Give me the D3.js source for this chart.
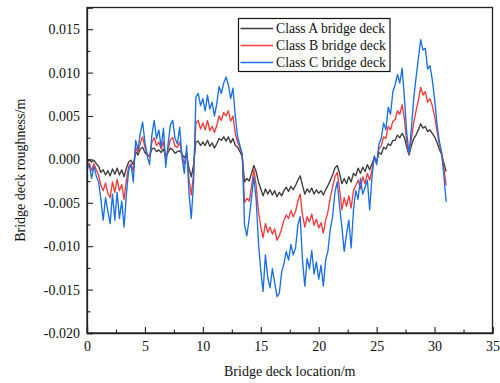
<!DOCTYPE html>
<html>
<head>
<meta charset="utf-8">
<script src="https://cdn.jsdelivr.net/npm/d3@7"></script>
<style>
  html, body { margin: 0; padding: 0; background: #fff; }
  svg { display: block; }
  svg text { font-family: "Liberation Serif", "Times New Roman", serif; }
</style>
</head>
<body>
<svg id="chart" width="500" height="383"></svg>
<script>
// Deck roughness profiles, in mm, sampled every 0.2 m from 0 to 31 m
const sampleStep = 0.2;

const classA = [
  -0.4, 0.0, -0.3, -0.1, -0.5, -0.8, -1.5, -1.2, -1.8, -1.3,
  -1.9, -1.1, -1.7, -1.0, -1.8, -1.2, -2.0, -1.0, -0.3, -0.1,
  -0.6, 0.9, 0.5, 1.2, 1.4, 0.8, 0.5, 0.4, 1.2, 1.3,
  0.9, 1.1, 0.8, 1.2, 0.3, 0.8, 1.3, 1.1, 0.7, 0.9,
  1.0, 0.6, 0.2, 0.6, -1.0, -2.0, -0.6, 2.0, 2.1, 1.6,
  2.0, 1.6, 2.2, 1.5, 1.9, 1.3, 1.8, 2.4, 2.2, 2.6,
  2.1, 2.6, 1.9, 2.4, 1.6, 1.4, 0.9, 0.3, -2.6, -2.2,
  -2.5, -1.6, -0.7, -1.4, -2.6, -3.4, -4.2, -3.4, -4.0, -3.5,
  -4.1, -3.6, -4.3, -3.8, -4.2, -3.6, -3.2, -3.7, -3.1, -3.5,
  -3.0, -2.4, -1.9, -3.0, -4.0, -3.4, -3.8, -3.3, -4.0, -3.5,
  -3.9, -3.6, -4.1, -3.5, -3.0, -2.4, -1.8, -1.0, -0.7, -1.6,
  -2.8, -2.2, -2.8, -2.0, -2.6, -1.6, -1.9, -1.0, -1.6, -0.9,
  -1.4, -0.6, -1.2, -0.5, 0.2, -0.3, 0.8, 0.6, 1.4, 1.2,
  1.8, 1.6, 2.2, 2.2, 2.8, 2.5, 3.0, 2.5, 1.4, 0.5,
  1.6, 2.4, 2.8, 3.4, 4.1, 3.6, 3.8, 3.2, 3.4, 3.0,
  2.6, 2.0, 1.2, 0.6, -0.4, -1.4
];

const classB = [
  -0.8, -0.4, -1.3, -0.5, -1.2, -1.8, -3.0, -3.6, -2.7, -3.9,
  -4.4, -2.6, -3.8, -2.3, -3.6, -2.9, -4.6, -2.4, -0.8, -0.5,
  -1.4, 1.4, 0.8, 1.9, 2.6, 1.4, 0.6, 0.3, 2.0, 2.5,
  1.6, 2.0, 1.2, 2.1, 0.0, 1.2, 2.3, 2.5, 1.5, 1.4,
  2.0, 0.6, -0.6, 0.8, -2.2, -4.1, -1.6, 4.2, 4.5, 3.5,
  4.2, 3.4, 4.5, 3.3, 3.8, 3.1, 3.9, 5.0, 4.5, 5.4,
  5.0, 5.6, 4.4, 5.0, 3.0, 2.0, 1.3, 0.5, -5.0, -4.5,
  -4.8, -3.2, -1.2, -3.0, -6.0, -7.8, -9.0, -7.4, -8.4, -7.8,
  -8.6, -8.0, -9.3, -8.8, -8.0, -7.0, -6.4, -6.8, -5.9, -6.6,
  -6.0, -4.8, -4.0, -6.4, -7.8, -6.6, -7.2, -6.3, -7.6, -6.9,
  -7.9, -7.3, -8.5, -7.0, -6.0, -4.4, -3.2, -2.0, -1.5, -3.4,
  -5.8, -4.4, -5.4, -4.2, -5.6, -3.6, -3.0, -2.4, -3.4, -2.0,
  -2.8, -1.6, -2.4, -1.2, 0.3, -0.4, 1.2, 1.6, 2.6, 2.4,
  3.8, 3.4, 4.4, 4.6, 5.6, 5.2, 6.3, 4.6, 2.0, 0.6,
  2.4, 4.2, 5.6, 6.8, 8.3, 7.4, 7.8, 6.6, 7.0, 6.2,
  5.0, 3.4, 1.8, 0.8, -1.0, -3.0
];

const classC = [
  -1.2, -0.6, -2.2, -0.8, -1.9, -2.6, -4.6, -7.0, -4.4, -6.0,
  -7.4, -4.0, -7.0, -3.8, -6.8, -4.8, -7.8, -4.0, -1.2, -0.6,
  -2.6, 2.2, 1.1, 3.0, 4.3, 2.0, 0.4, -0.6, 2.8, 4.5,
  2.4, 3.4, 1.4, 3.6, -0.9, 1.8, 4.0, 4.5, 2.4, 1.8,
  3.7, 0.2, -1.6, 1.6, -3.8, -6.8, -2.6, 7.2, 7.6, 6.2,
  7.0, 5.6, 7.4, 5.8, 6.6, 5.0, 6.4, 8.4, 7.6, 8.8,
  9.5, 8.6, 7.0, 8.2, 5.0, 2.6, 1.6, 0.6, -7.6, -8.8,
  -6.8, -4.4, -2.0, -4.6, -9.6, -12.8, -15.2, -11.0, -13.6, -14.8,
  -12.6, -14.2, -15.8, -15.4, -13.0, -12.0, -10.6, -11.6, -9.8, -11.0,
  -10.2, -7.6, -6.6, -11.6, -14.6, -11.4, -12.6, -10.5, -13.2, -11.8,
  -13.8, -12.2, -14.6, -11.6, -10.5, -8.0, -6.6, -3.8, -2.6, -5.4,
  -7.8, -10.6, -8.6, -7.0, -10.2, -5.8, -3.6, -4.6, -2.2, -4.0,
  -3.2, -2.4, -5.8, -2.0, 0.4, -0.6, 1.8, 2.4, 4.2, 3.4,
  6.0, 5.2, 7.8, 8.6, 9.8, 8.8, 10.5, 7.0, 3.0, 0.6,
  3.6, 7.0, 9.4, 11.6, 13.8, 12.6, 12.8, 10.4, 10.8, 9.2,
  7.0, 4.2, 2.2, 0.8, -1.8, -4.9
];

const seriesNames = ["Class A bridge deck", "Class B bridge deck", "Class C bridge deck"];
const seriesColors = ["#3c3c3c", "#ef3b3b", "#1b6fe4"];
const xTicks = [0, 5, 10, 15, 20, 25, 30, 35];
const yTicks = [-0.020, -0.015, -0.010, -0.005, 0.000, 0.005, 0.010, 0.015];
const xTitle = "Bridge deck location/m";
const yTitle = "Bridge deck roughness/m";

const svg = d3.select("#chart");
const plotL = 87, plotR = 492.5, plotT = 7.5, plotB = 333;
const serif = "Liberation Serif, Times New Roman, serif";

const x = d3.scaleLinear().domain([0, 35]).range([plotL, plotR]);
const y = d3.scaleLinear().domain([-0.020, 0.0175]).range([plotB, plotT]);

const fmt = v => (Math.abs(v) < 1e-9 ? 0 : v).toFixed(3);

// minor ticks (halfway between majors)
const xMinor = xTicks.slice(0, -1).map(v => v + 2.5);
const yMinor = yTicks.map(v => v + 0.0025);

const axisColor = "#222";

svg.append("defs").append("clipPath").attr("id", "plotClip")
  .append("rect").attr("x", plotL).attr("y", plotT)
  .attr("width", plotR - plotL).attr("height", plotB - plotT);

// data lines
const series = [classA, classB, classC];
const line = d3.line()
  .x((d, i) => x(i * sampleStep))
  .y(d => y(d / 1000));

const gLines = svg.append("g").attr("clip-path", "url(#plotClip)");
series.forEach((s, k) => {
  gLines.append("path")
    .datum(s)
    .attr("d", line)
    .attr("fill", "none")
    .attr("stroke", seriesColors[k])
    .attr("stroke-width", 1.35)
    .attr("stroke-linejoin", "round");
});

// frame
svg.append("rect")
  .attr("x", plotL).attr("y", plotT)
  .attr("width", plotR - plotL).attr("height", plotB - plotT)
  .attr("fill", "none").attr("stroke", axisColor).attr("stroke-width", 1.3);

// x axis
svg.append("g").attr("class", "axis").attr("transform", `translate(0,${plotB})`)
  .call(d3.axisBottom(x).tickValues(xTicks).tickSize(-6).tickPadding(8).tickFormat(d3.format("d")));
svg.append("g").attr("transform", `translate(0,${plotB})`)
  .call(d3.axisBottom(x).tickValues(xMinor).tickSize(-3.5).tickFormat(""))
  .call(g => g.select(".domain").remove());

// y axis
svg.append("g").attr("class", "axis").attr("transform", `translate(${plotL},0)`)
  .call(d3.axisLeft(y).tickValues(yTicks).tickSize(-6).tickPadding(7).tickFormat(fmt));
svg.append("g").attr("transform", `translate(${plotL},0)`)
  .call(d3.axisLeft(y).tickValues(yMinor).tickSize(-3.5).tickFormat(""))
  .call(g => g.select(".domain").remove());

svg.selectAll("g.axis").attr("font-family", serif).attr("font-size", 14);
svg.selectAll(".domain").attr("stroke", axisColor).attr("stroke-width", 1.3);
svg.selectAll(".tick line").attr("stroke", axisColor).attr("stroke-width", 1.1);
svg.selectAll(".tick text").attr("fill", "#111");

// axis titles
svg.append("text")
  .attr("x", (plotL + plotR) / 2).attr("y", 376)
  .attr("text-anchor", "middle")
  .attr("font-family", serif).attr("font-size", 14)
  .attr("fill", "#111")
  .text(xTitle);

svg.append("text")
  .attr("transform", `translate(25,${(plotT + plotB) / 2}) rotate(-90)`)
  .attr("text-anchor", "middle")
  .attr("font-family", serif).attr("font-size", 14)
  .attr("fill", "#111")
  .text(yTitle);

// legend
const legend = svg.append("g");
legend.append("rect")
  .attr("x", 238.5).attr("y", 18.5).attr("width", 151.5).attr("height", 53)
  .attr("fill", "#fff").attr("stroke", "#111").attr("stroke-width", 1.2);
seriesNames.forEach((name, k) => {
  const cy = 28.5 + k * 17;
  legend.append("line")
    .attr("x1", 240.5).attr("x2", 273).attr("y1", cy).attr("y2", cy)
    .attr("stroke", seriesColors[k]).attr("stroke-width", 1.35);
  legend.append("text")
    .attr("x", 276).attr("y", cy).attr("dy", "0.35em")
    .attr("font-family", serif).attr("font-size", 13.7)
    .attr("fill", "#111")
    .text(name);
});
</script>
</body>
</html>
